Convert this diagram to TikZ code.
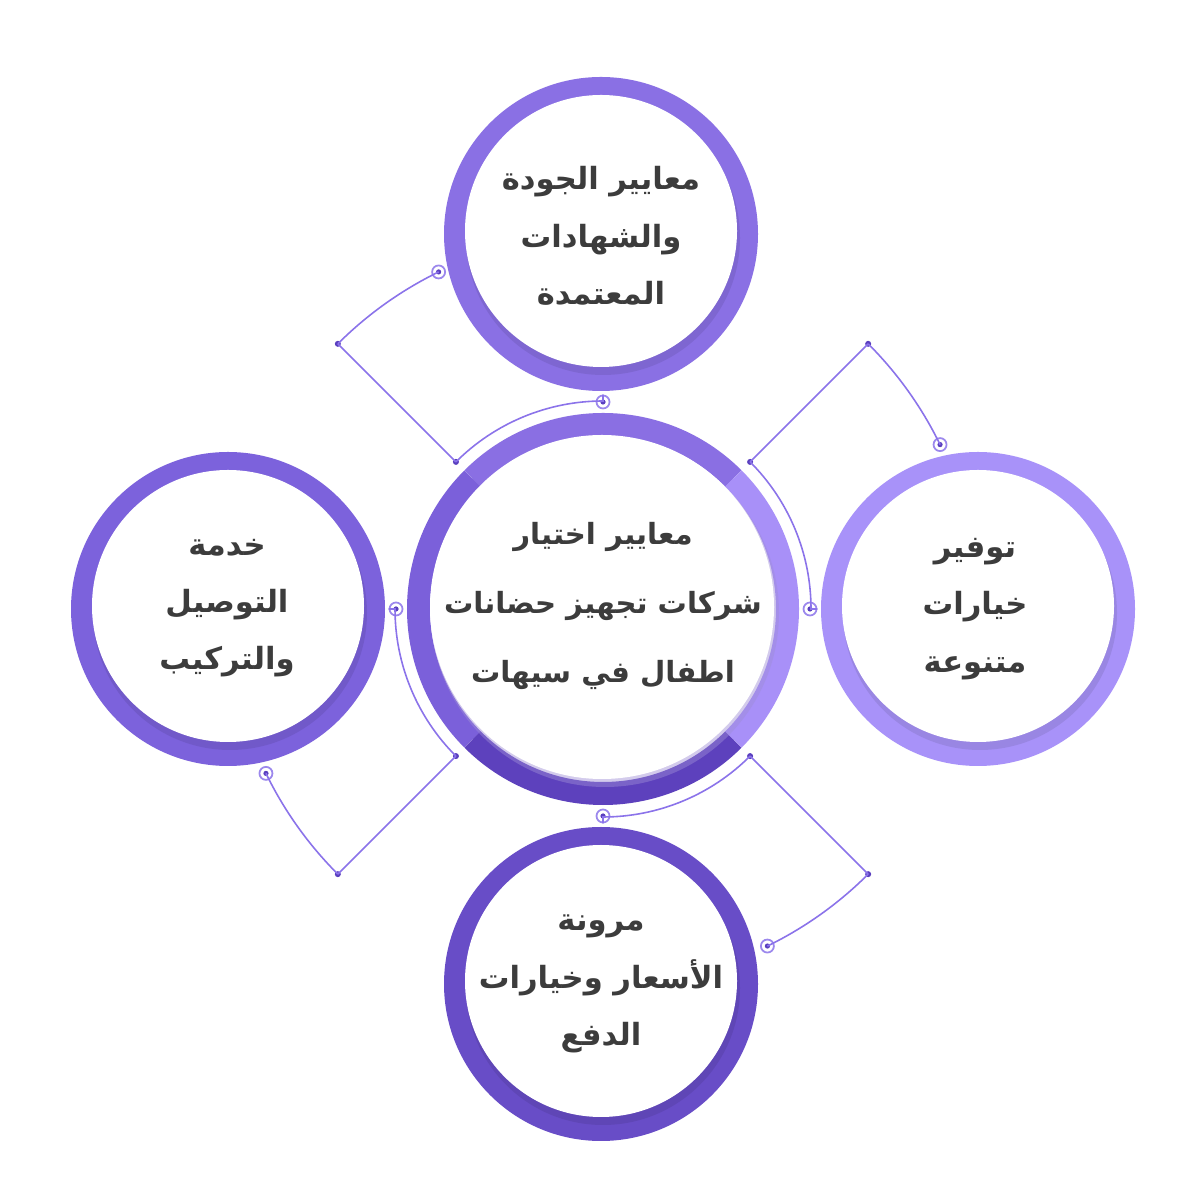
\documentclass[tikz,border=0pt]{standalone}
\usepackage{fontspec}
\newfontfamily\arabicfont[Script=Arabic]{DejaVu Sans}
\TeXXeTstate=1
\usetikzlibrary{calc}
\definecolor{hubtop}{HTML}{8A6FE3}
\definecolor{hubright}{HTML}{A890F8}
\definecolor{hubbottom}{HTML}{5D41BD}
\definecolor{hubleft}{HTML}{7B60DA}
\definecolor{bubtop}{HTML}{8A70E4}
\definecolor{bubright}{HTML}{A892F9}
\definecolor{bubbottom}{HTML}{684DC7}
\definecolor{bubleft}{HTML}{7C62DC}
\definecolor{wirepurple}{HTML}{8B73EA}
\definecolor{dotdark}{HTML}{5A3FBF}
\definecolor{textgray}{HTML}{3C3C3C}

\begin{document}
\begin{tikzpicture}[x=0.01cm, y=0.01cm,
        hubseg/.style={line width=0.23cm},
        wire/.style={draw=wirepurple, line width=0.45pt},
        joint/.style={circle, fill=dotdark, inner sep=0pt, minimum size=0.06cm},
        port/.style={circle, draw=wirepurple!85, line width=0.5pt, fill=white, inner sep=0pt, minimum size=0.13cm,
          path picture={\fill[dotdark] (path picture bounding box.center) circle[radius=0.026cm];}},
        bigtxt/.style={text=textgray, align=center, font=\arabicfont\bfseries\fontsize{8.3}{19.5}\selectfont},
        smalltxt/.style={text=textgray, align=center, font=\arabicfont\bfseries\fontsize{8.7}{16.3}\selectfont}
      ]
        \useasboundingbox (0,0) rectangle (1200,1200);
        \fill[white] (0,0) rectangle (1200,1200);

        \coordinate (hub) at (603,591);
        \coordinate (qual) at (601,966);
        \coordinate (deliv) at (228,591);
        \coordinate (range) at (978,591);
        \coordinate (price) at (601,216);

        % outer circles
        \fill[bubtop] (qual) circle[radius=157];
        \fill[bubtop!88!black, opacity=.7] ($(qual)+(2,-4)$) circle[radius=137];
        \fill[white] ($(qual)+(0,3)$) circle[radius=136];

        \fill[bubleft] (deliv) circle[radius=157];
        \fill[bubleft!88!black, opacity=.7] ($(deliv)+(2,-4)$) circle[radius=137];
        \fill[white] ($(deliv)+(0,3)$) circle[radius=136];

        \fill[bubright] (range) circle[radius=157];
        \fill[bubright!88!black, opacity=.7] ($(range)+(2,-4)$) circle[radius=137];
        \fill[white] ($(range)+(0,3)$) circle[radius=136];

        \fill[bubbottom] (price) circle[radius=157];
        \fill[bubbottom!88!black, opacity=.7] ($(price)+(2,-4)$) circle[radius=137];
        \fill[white] ($(price)+(0,3)$) circle[radius=136];

        % centre ring, four quarters
        \draw[hubseg, hubtop] ($(hub)+(45:184.5)$) arc[start angle=45, end angle=135, radius=184.5];
        \draw[hubseg, hubleft] ($(hub)+(135:184.5)$) arc[start angle=135, end angle=225, radius=184.5];
        \draw[hubseg, hubbottom] ($(hub)+(225:184.5)$) arc[start angle=225, end angle=315, radius=184.5];
        \draw[hubseg, hubright] ($(hub)+(315:184.5)$) arc[start angle=315, end angle=405, radius=184.5];
        \fill[hubbottom!60, opacity=.45] ($(hub)+(2,-4)$) circle[radius=174];
        \fill[white] ($(hub)+(-1,2)$) circle[radius=172];

        % connectors
        \node[joint] (tl-in) at ($(hub)+(135:208)$) {};
        \node[joint] (tl-out) at ($(hub)+(135:375)$) {};
        \node[port] (tl-a) at ($(hub)+(90:207)$) {};
        \node[port] (tl-b) at ($(hub)+(116:375)$) {};
        \draw[wire] (tl-in.center) -- (tl-out.center);
        \draw[wire] (tl-in.center) arc[start angle=135, end angle=90, radius=208] -- (tl-a);
        \draw[wire] (tl-out.center) arc[start angle=135, end angle=116, radius=375] -- (tl-b);

        \node[joint] (tr-in) at ($(hub)+(45:208)$) {};
        \node[joint] (tr-out) at ($(hub)+(45:375)$) {};
        \node[port] (tr-a) at ($(hub)+(0:207)$) {};
        \node[port] (tr-b) at ($(hub)+(26:375)$) {};
        \draw[wire] (tr-in.center) -- (tr-out.center);
        \draw[wire] (tr-in.center) arc[start angle=45, end angle=0, radius=208] -- (tr-a);
        \draw[wire] (tr-out.center) arc[start angle=45, end angle=26, radius=375] -- (tr-b);

        \node[joint] (bl-in) at ($(hub)+(225:208)$) {};
        \node[joint] (bl-out) at ($(hub)+(225:375)$) {};
        \node[port] (bl-a) at ($(hub)+(180:207)$) {};
        \node[port] (bl-b) at ($(hub)+(206:375)$) {};
        \draw[wire] (bl-in.center) -- (bl-out.center);
        \draw[wire] (bl-in.center) arc[start angle=225, end angle=180, radius=208] -- (bl-a);
        \draw[wire] (bl-out.center) arc[start angle=225, end angle=206, radius=375] -- (bl-b);

        \node[joint] (br-in) at ($(hub)+(315:208)$) {};
        \node[joint] (br-out) at ($(hub)+(315:375)$) {};
        \node[port] (br-a) at ($(hub)+(270:207)$) {};
        \node[port] (br-b) at ($(hub)+(296:375)$) {};
        \draw[wire] (br-in.center) -- (br-out.center);
        \draw[wire] (br-in.center) arc[start angle=315, end angle=270, radius=208] -- (br-a);
        \draw[wire] (br-out.center) arc[start angle=315, end angle=296, radius=375] -- (br-b);

        % texts
        \node[bigtxt] (hub-txt) at ($(hub)+(0,3)$) {\beginR معايير اختيار\endR\\\beginR شركات تجهيز حضانات\endR\\\beginR اطفال في سيهات\endR};
        \node[smalltxt] (qual-txt) at ($(qual)+(0,-2)$) {\beginR معايير الجودة\endR\\\beginR والشهادات\endR\\\beginR المعتمدة\endR};
        \node[smalltxt] (deliv-txt) at ($(deliv)+(-1,1)$) {\beginR خدمة\endR\\\beginR التوصيل\endR\\\beginR والتركيب\endR};
        \node[smalltxt] (range-txt) at ($(range)+(-3,0)$) {\beginR توفير\endR\\\beginR خيارات\endR\\\beginR متنوعة\endR};
        \node[smalltxt] (price-txt) at ($(price)+(0,0)$) {\beginR مرونة\endR\\\beginR الأسعار وخيارات\endR\\\beginR الدفع\endR};
      \end{tikzpicture}
\end{document}
